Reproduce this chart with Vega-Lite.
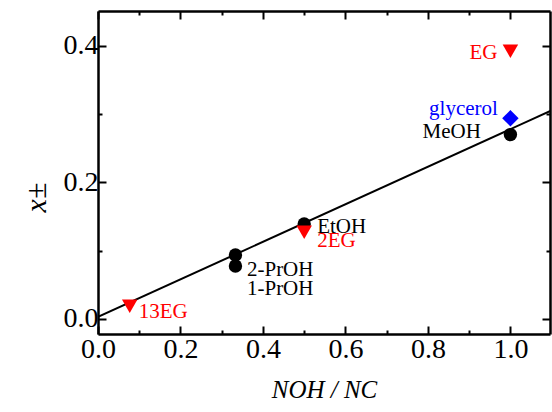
{
  "$schema": "https://vega.github.io/schema/vega-lite/v6.json",
  "autosize": "none",
  "padding": {"left": 98, "top": 11, "right": 2, "bottom": 78},
  "width": 452,
  "height": 323,
  "background": "white",
  "config": {"view": {"stroke": null}, "font": "Liberation Serif"},
  "datasets": {
    "fit": [
      {"x": 0.0, "y": 0.003},
      {"x": 1.1, "y": 0.3055}
    ],
    "pts": [
      {"name": "13EG", "x": 0.0769, "y": 0.0187, "kind": "EG"},
      {"name": "2-PrOH", "x": 0.3333, "y": 0.0936, "kind": "alcohol"},
      {"name": "1-PrOH", "x": 0.3333, "y": 0.0775, "kind": "alcohol"},
      {"name": "EtOH", "x": 0.5, "y": 0.139, "kind": "alcohol"},
      {"name": "2EG", "x": 0.5, "y": 0.127, "kind": "EG"},
      {"name": "MeOH", "x": 1.0, "y": 0.27, "kind": "alcohol"},
      {"name": "glycerol", "x": 1.0, "y": 0.294, "kind": "glycerol"},
      {"name": "EG", "x": 1.0, "y": 0.392, "kind": "EG"}
    ]
  },
  "layer": [
    {
      "data": {"name": "fit"},
      "mark": {"type": "line", "color": "black", "strokeWidth": 2, "clip": true},
      "encoding": {
        "x": {
          "field": "x", "type": "quantitative",
          "scale": {"domain": [0, 1.096], "nice": false, "zero": false},
          "axis": {
            "orient": "bottom",
            "values": [0, 0.1, 0.2, 0.3, 0.4, 0.5, 0.6, 0.7, 0.8, 0.9, 1.0],
            "labelExpr": "round(datum.value*10)%2==0 ? format(datum.value,'.1f') : ''",
            "tickSize": {"condition": {"test": "round(datum.value*10)%2==0", "value": -8}, "value": -4},
            "tickWidth": 2, "tickColor": "black",
            "domainColor": "black", "domainWidth": 2.5,
            "labelFont": "Liberation Serif", "labelFontSize": 28, "labelColor": "black",
            "labelPadding": 9, "labelOverlap": false, "labelFlush": false, "labelBound": false,
            "grid": false,
            "title": "NOH / NC",
            "titleFont": "Liberation Serif", "titleFontSize": 25, "titleFontStyle": "italic",
            "titleFontWeight": "normal", "titleColor": "black", "titlePadding": 10
          }
        },
        "y": {
          "field": "y", "type": "quantitative",
          "scale": {"domain": [-0.022, 0.451], "nice": false, "zero": false},
          "axis": {
            "orient": "left",
            "values": [0, 0.1, 0.2, 0.3, 0.4],
            "labelExpr": "round(datum.value*10)%2==0 ? format(datum.value,'.1f') : ''",
            "tickSize": {"condition": {"test": "round(datum.value*10)%2==0", "value": -8}, "value": -4},
            "tickWidth": 2, "tickColor": "black",
            "domainColor": "black", "domainWidth": 2.5,
            "labelFont": "Liberation Serif", "labelFontSize": 28, "labelColor": "black",
            "labelPadding": 8, "labelOverlap": false, "labelFlush": false, "labelBound": false,
            "grid": false,
            "title": "x±",
            "titleFont": "Liberation Serif", "titleFontSize": 30, "titleFontStyle": "italic",
            "titleFontWeight": "normal", "titleColor": "black",
            "titleX": -53, "titleY": 186, "titleBaseline": "alphabetic", "titleAngle": -90, "titleAlign": "center"
          }
        }
      }
    },
    {
      "data": {"name": "pts"},
      "transform": [{"filter": "datum.kind == 'alcohol'"}],
      "mark": {"type": "point", "shape": "circle", "filled": true, "color": "black", "size": 180, "opacity": 1},
      "encoding": {
        "x": {
          "field": "x", "type": "quantitative",
          "axis": {
            "orient": "top",
            "values": [0, 0.1, 0.2, 0.3, 0.4, 0.5, 0.6, 0.7, 0.8, 0.9, 1.0],
            "labels": false, "title": null, "grid": false,
            "tickSize": {"condition": {"test": "round(datum.value*10)%2==0", "value": -8}, "value": -4},
            "tickWidth": 2, "tickColor": "black",
            "domainColor": "black", "domainWidth": 2.5
          }
        },
        "y": {
          "field": "y", "type": "quantitative",
          "axis": {
            "orient": "right",
            "values": [0, 0.1, 0.2, 0.3, 0.4],
            "labels": false, "title": null, "grid": false,
            "tickSize": {"condition": {"test": "round(datum.value*10)%2==0", "value": -8}, "value": -4},
            "tickWidth": 2, "tickColor": "black",
            "domainColor": "black", "domainWidth": 2.5
          }
        }
      }
    },
    {
      "data": {"name": "pts"},
      "transform": [{"filter": "datum.kind == 'EG'"}],
      "mark": {"type": "point", "shape": "triangle-down", "filled": true, "color": "#ff0000", "size": 240, "opacity": 1},
      "encoding": {
        "x": {"field": "x", "type": "quantitative", "axis": null},
        "y": {"field": "y", "type": "quantitative", "axis": null}
      }
    },
    {
      "data": {"name": "pts"},
      "transform": [{"filter": "datum.kind == 'glycerol'"}],
      "mark": {"type": "point", "shape": "diamond", "filled": true, "color": "#0000ff", "size": 270, "opacity": 1},
      "encoding": {
        "x": {"field": "x", "type": "quantitative", "axis": null},
        "y": {"field": "y", "type": "quantitative", "axis": null}
      }
    },
    {
      "data": {"name": "pts"},
      "transform": [{"filter": "datum.name == 'EG'"}],
      "mark": {"type": "text", "font": "Liberation Serif", "fontSize": 21, "color": "#ff0000", "align": "right", "baseline": "alphabetic", "dx": -13, "dy": 7.5},
      "encoding": {
        "x": {"field": "x", "type": "quantitative", "axis": null},
        "y": {"field": "y", "type": "quantitative", "axis": null},
        "text": {"field": "name"}
      }
    },
    {
      "data": {"name": "pts"},
      "transform": [{"filter": "datum.name == 'glycerol'"}],
      "mark": {"type": "text", "font": "Liberation Serif", "fontSize": 21, "color": "#0000ff", "align": "right", "baseline": "alphabetic", "dx": -12.5, "dy": -3.5},
      "encoding": {
        "x": {"field": "x", "type": "quantitative", "axis": null},
        "y": {"field": "y", "type": "quantitative", "axis": null},
        "text": {"field": "name"}
      }
    },
    {
      "data": {"name": "pts"},
      "transform": [{"filter": "datum.name == 'MeOH'"}],
      "mark": {"type": "text", "font": "Liberation Serif", "fontSize": 21, "color": "black", "align": "right", "baseline": "alphabetic", "dx": -29.5, "dy": 3.5},
      "encoding": {
        "x": {"field": "x", "type": "quantitative", "axis": null},
        "y": {"field": "y", "type": "quantitative", "axis": null},
        "text": {"field": "name"}
      }
    },
    {
      "data": {"name": "pts"},
      "transform": [{"filter": "datum.name == 'EtOH'"}],
      "mark": {"type": "text", "font": "Liberation Serif", "fontSize": 21, "color": "black", "align": "left", "baseline": "alphabetic", "dx": 13, "dy": 9},
      "encoding": {
        "x": {"field": "x", "type": "quantitative", "axis": null},
        "y": {"field": "y", "type": "quantitative", "axis": null},
        "text": {"field": "name"}
      }
    },
    {
      "data": {"name": "pts"},
      "transform": [{"filter": "datum.name == '2EG'"}],
      "mark": {"type": "text", "font": "Liberation Serif", "fontSize": 21, "color": "#ff0000", "align": "left", "baseline": "alphabetic", "dx": 13, "dy": 15},
      "encoding": {
        "x": {"field": "x", "type": "quantitative", "axis": null},
        "y": {"field": "y", "type": "quantitative", "axis": null},
        "text": {"field": "name"}
      }
    },
    {
      "data": {"name": "pts"},
      "transform": [{"filter": "datum.name == '2-PrOH'"}],
      "mark": {"type": "text", "font": "Liberation Serif", "fontSize": 21, "color": "black", "align": "left", "baseline": "alphabetic", "dx": 11.5, "dy": 21},
      "encoding": {
        "x": {"field": "x", "type": "quantitative", "axis": null},
        "y": {"field": "y", "type": "quantitative", "axis": null},
        "text": {"field": "name"}
      }
    },
    {
      "data": {"name": "pts"},
      "transform": [{"filter": "datum.name == '1-PrOH'"}],
      "mark": {"type": "text", "font": "Liberation Serif", "fontSize": 21, "color": "black", "align": "left", "baseline": "alphabetic", "dx": 11.5, "dy": 28.5},
      "encoding": {
        "x": {"field": "x", "type": "quantitative", "axis": null},
        "y": {"field": "y", "type": "quantitative", "axis": null},
        "text": {"field": "name"}
      }
    },
    {
      "data": {"name": "pts"},
      "transform": [{"filter": "datum.name == '13EG'"}],
      "mark": {"type": "text", "font": "Liberation Serif", "fontSize": 21, "color": "#ff0000", "align": "left", "baseline": "alphabetic", "dx": 9, "dy": 11.5},
      "encoding": {
        "x": {"field": "x", "type": "quantitative", "axis": null},
        "y": {"field": "y", "type": "quantitative", "axis": null},
        "text": {"field": "name"}
      }
    }
  ],
  "resolve": {"axis": {"x": "independent", "y": "independent"}}
}
